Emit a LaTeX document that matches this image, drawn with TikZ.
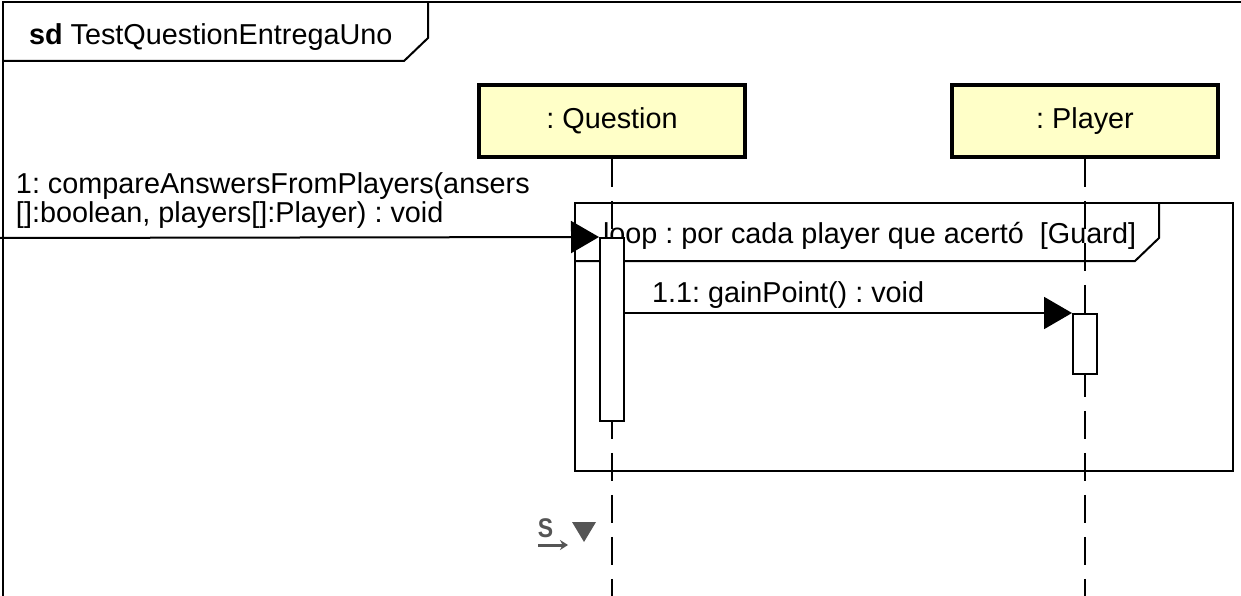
\documentclass[tikz,border=0pt]{standalone}
\usepackage{fontspec}
\setmainfont{Liberation Sans}
\usetikzlibrary{positioning,arrows.meta}
\definecolor{lifeyellow}{RGB}{255,255,200}
\definecolor{icongray}{RGB}{85,85,85}
\frenchspacing
\tikzset{
lifebox/.style={draw,line width=3.5pt,fill=lifeyellow,minimum width=266pt,minimum height=72pt},
lifeline/.style={line width=2pt,dash pattern=on 28pt off 14pt},
activation/.style={draw,line width=2pt,fill=white,minimum width=24pt,inner sep=0pt},
msg/.style={line width=2pt,-{Triangle[length=28pt,width=32pt]}},
}
\begin{document}
\begin{tikzpicture}[x=1pt,y=-1pt,line width=2pt,font=\fontsize{28.8}{29}\selectfont]
\useasboundingbox(0,0)rectangle(1241,596);
\draw(3,596)--(3,2)--(1241,2);
\draw(3,61)--(404,61)--(428,38)--(428,2);
\node[anchor=base west,inner sep=0pt](title)at(28,45){\textbf{sd} TestQuestionEntregaUno};
\node[lifebox](question)at(612,121){: Question};
\node[lifebox](player)at(1085,121){: Player};
% loop fragment
\node[draw,anchor=north west,minimum width=658pt,minimum height=268pt,inner sep=0pt](loop)at(574,202){};
\draw(loop.north west|-0,261)--(1135,261)--(1159,238)--(1159,202);
\node[anchor=base west,inner sep=0pt](guard)at(602,243){loop : por cada player que acertó\ \ [Guard]};
\coordinate(questionEnd)at(612,596);
\coordinate(playerEnd)at(1085,596);
\draw[lifeline](question.south)--(questionEnd);
\draw[lifeline](player.south)--(playerEnd);
\node[activation,minimum height=183pt,anchor=north](actQ)at(612,237){};
\node[activation,minimum height=60pt,anchor=north](actP)at(1085,313){};
% messages
\coordinate(caller)at(0,238);
\draw[msg](caller)--(actQ.north west);
\node[anchor=south west,align=left,inner sep=0pt](callLabel)at(15,229){1: compareAnswersFromPlayers(ansers\\{}[]:boolean, players[]:Player) : void};
\draw[msg](actQ.east|-actP.north)--(actP.north west);
\node[anchor=base west,inner sep=0pt](gainLabel)at(651,302){1.1: gainPoint() : void};
% editor icon
\node[anchor=base west,inner sep=0pt,text=icongray,font=\fontsize{27}{27}\selectfont\bfseries,xscale=0.85](sIcon)at(537,537){S};
\draw[icongray,line width=3pt,-{Stealth[length=8pt,width=10pt]}](538,545)--(568,545);
\fill[icongray](572,522)--(596,522)--(584,542)--cycle;
\end{tikzpicture}
\end{document}
